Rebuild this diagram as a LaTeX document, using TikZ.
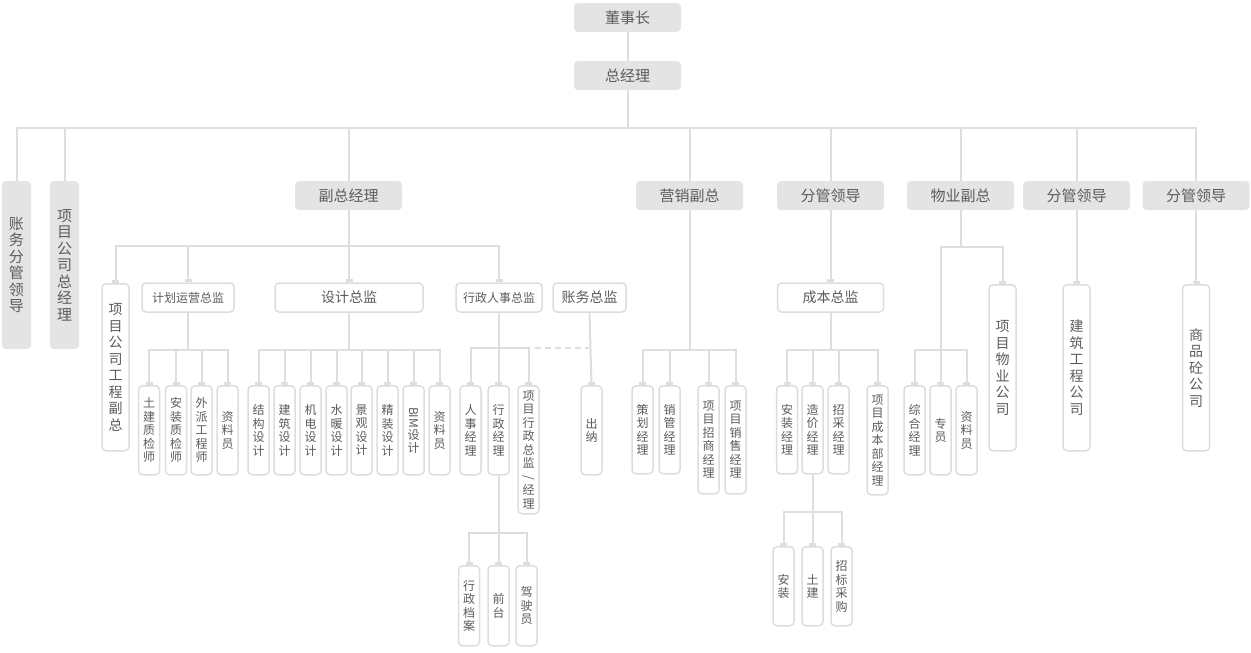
\documentclass[tikz,border=0pt]{standalone}
\usepackage{fontspec}
\newfontfamily\cjk{Noto Sans CJK SC}
\usetikzlibrary{arrows.meta}
\definecolor{boxgray}{HTML}{E4E4E4}
\definecolor{txtgray}{HTML}{5C5C5C}
\definecolor{linegray}{HTML}{DEDEDE}
\definecolor{bordgray}{HTML}{DDDDDD}
\newcommand{\rotlat}[1]{\rotatebox[origin=c]{-90}{#1}}
\tikzset{
  gbox/.style={fill=boxgray, rounded corners=4pt, text=txtgray, inner sep=0pt,
    font=\cjk\fontsize{15}{16.5}\selectfont, minimum width=107pt, minimum height=29pt},
  gvbox/.style={gbox, align=center, minimum width=29pt, minimum height=168pt},
  wbox/.style={draw=bordgray, line width=1.5pt, fill=white, rounded corners=4pt,
    text=txtgray, inner sep=0pt, minimum height=29pt, font=\cjk\fontsize{14}{16}\selectfont},
  wsmall/.style={wbox, font=\cjk\fontsize{12}{13.5}\selectfont},
  vsmall/.style={wbox, align=center, minimum width=21pt, anchor=north,
    font=\cjk\fontsize{12}{13.5}\selectfont},
  vtall/.style={wbox, align=center, minimum width=27pt, minimum height=167pt, anchor=north,
    font=\cjk\fontsize{14}{16.5}\selectfont},
  conn/.style={draw=linegray, line width=2pt},
  tipd/.style={conn, -{Rectangle[length=3pt,width=7pt]}},
  dashconn/.style={draw=linegray, line width=2pt, dash pattern=on 6pt off 4pt},
}
\begin{document}
\begin{tikzpicture}[x=1pt, y=-1pt]
\useasboundingbox (0,0) rectangle (1251,653);
% bars
\coordinate (r1) at (0,128);
\coordinate (r2) at (0,246);
\coordinate (r3) at (0,350);
\coordinate (r3b) at (0,348);
\coordinate (r4) at (0,533);
\coordinate (r5) at (0,512);
\coordinate (r6) at (0,247);
\coordinate (wyj) at (940.5,350);
\coordinate (dA) at (535,348);
\coordinate (dB) at (589,348);

% top
\node[gbox] (dsz) at (627.5,17.5) {董事长};
\node[gbox] (zjl) at (627.5,75.5) {总经理};

% level 2
\node[gvbox] (zwfg) at (16.5,265) {账\\务\\分\\管\\领\\导};
\node[gvbox] (xmzjl) at (64.5,265) {项\\目\\公\\司\\总\\经\\理};
\node[gbox] (fzjl) at (348.5,195.5) {副总经理};
\node[gbox] (yxfz) at (689.5,195.5) {营销副总};
\node[gbox] (fgld1) at (830.5,195.5) {分管领导};
\node[gbox] (wyfz) at (960.5,195.5) {物业副总};
\node[gbox] (fgld2) at (1076.5,195.5) {分管领导};
\node[gbox] (fgld3) at (1196,195.5) {分管领导};

% level 3 under 副总经理
\node[vtall] (gcfz) at (115.5,283) {项\\目\\公\\司\\工\\程\\副\\总};
\node[wsmall, minimum width=92pt] (jhyy) at (188,297.5) {计划运营总监};
\node[wbox, minimum width=148pt] (sjzj) at (349,297.5) {设计总监};
\node[wsmall, minimum width=86pt] (xzrs) at (499,297.5) {行政人事总监};
\node[wbox, minimum width=73pt] (cwzj) at (589.5,297.5) {账务总监};

% 计划运营总监 children
\node[vsmall, minimum height=89pt] (tjzj) at (149,385) {土\\建\\质\\检\\师};
\node[vsmall, minimum height=89pt] (azzj) at (176,385) {安\\装\\质\\检\\师};
\node[vsmall, minimum height=89pt] (wpgc) at (201.5,385) {外\\派\\工\\程\\师};
\node[vsmall, minimum height=89pt] (zly1) at (227.5,385) {资\\料\\员};

% 设计总监 children
\node[vsmall, minimum height=89pt] (jgsj) at (258.5,385) {结\\构\\设\\计};
\node[vsmall, minimum height=89pt] (jzsj) at (284.5,385) {建\\筑\\设\\计};
\node[vsmall, minimum height=89pt] (jdsj) at (310.5,385) {机\\电\\设\\计};
\node[vsmall, minimum height=89pt] (snsj) at (336.5,385) {水\\暖\\设\\计};
\node[vsmall, minimum height=89pt] (jgsj2) at (361.5,385) {景\\观\\设\\计};
\node[vsmall, minimum height=89pt] (jzsj2) at (387.5,385) {精\\装\\设\\计};
\node[vsmall, minimum height=89pt] (bimsj) at (413.5,385) {\rotlat{BIM}\\设\\计};
\node[vsmall, minimum height=89pt] (zly2) at (439.5,385) {资\\料\\员};

% 行政人事总监 children
\node[vsmall, minimum height=89pt] (rsjl) at (470.5,385) {人\\事\\经\\理};
\node[vsmall, minimum height=89pt] (xzjl) at (498.5,385) {行\\政\\经\\理};
\node[vsmall, minimum height=128pt] (xmxz) at (528.5,385) {项\\目\\行\\政\\总\\监\\\rotlat{/}\\经\\理};

% 行政经理 children
\node[vsmall, minimum height=80pt] (xzda) at (469,565) {行\\政\\档\\案};
\node[vsmall, minimum height=80pt] (qt) at (498.5,565) {前\\台};
\node[vsmall, minimum height=80pt] (jsy) at (526.5,565) {驾\\驶\\员};

% 账务总监 child
\node[vsmall, minimum height=89pt] (cn) at (591.5,385) {出\\纳};

% 营销副总 children
\node[vsmall, minimum height=88pt] (chjl) at (642.5,385) {策\\划\\经\\理};
\node[vsmall, minimum height=88pt] (xgjl) at (669.5,385) {销\\管\\经\\理};
\node[vsmall, minimum height=108pt] (zsjl) at (708.5,385) {项\\目\\招\\商\\经\\理};
\node[vsmall, minimum height=108pt] (xsjl) at (735.5,385) {项\\目\\销\\售\\经\\理};

% 成本
\node[wbox, minimum width=106pt] (cbzj) at (830.5,297.5) {成本总监};
\node[vsmall, minimum height=88pt] (azjl) at (787,385) {安\\装\\经\\理};
\node[vsmall, minimum height=88pt] (zjjl) at (812.5,385) {造\\价\\经\\理};
\node[vsmall, minimum height=88pt] (zcjl) at (838.5,385) {招\\采\\经\\理};
\node[vsmall, minimum height=109pt] (cbbjl) at (877.5,385) {项\\目\\成\\本\\部\\经\\理};
\node[vsmall, minimum height=79pt] (az) at (783.5,546) {安\\装};
\node[vsmall, minimum height=79pt] (tj) at (812.5,546) {土\\建};
\node[vsmall, minimum height=79pt] (zbcg) at (841.5,546) {招\\标\\采\\购};

% 物业
\node[vtall, minimum height=166pt] (xmwy) at (1002.5,284) {项\\目\\物\\业\\公\\司};
\node[vsmall, minimum height=89pt] (zhjl) at (914.5,385) {综\\合\\经\\理};
\node[vsmall, minimum height=89pt] (zy) at (940.5,385) {专\\员};
\node[vsmall, minimum height=89pt] (zly3) at (966.5,385) {资\\料\\员};

% 分管领导 children
\node[vtall, minimum height=166pt] (jzgc) at (1076.5,284) {建\\筑\\工\\程\\公\\司};
\node[vtall, minimum height=166pt] (sptg) at (1196,284) {商\\品\\砼\\公\\司};

% ---------- connectors ----------
\draw[conn] (dsz) -- (zjl);
\foreach \c in {zwfg,xmzjl,fzjl,yxfz,fgld1,wyfz,fgld2,fgld3}
  \draw[conn] (zjl.south) -- (zjl.south |- r1) -| (\c.north);

\foreach \c in {gcfz,jhyy,sjzj,xzrs}
  \draw[tipd] (fzjl.south) -- (fzjl.south |- r2) -| (\c.north);

\foreach \c in {tjzj,azzj,wpgc,zly1}
  \draw[tipd] (jhyy.south) -- (jhyy.south |- r3) -| (\c.north);

\foreach \c in {jgsj,jzsj,jdsj,snsj,jgsj2,jzsj2,bimsj,zly2}
  \draw[tipd] (sjzj.south) -- (sjzj.south |- r3) -| (\c.north);

\foreach \c in {rsjl,xzjl,xmxz}
  \draw[tipd] (xzrs.south) -- (xzrs.south |- r3b) -| (\c.north);

\foreach \c in {xzda,qt,jsy}
  \draw[tipd] (xzjl.south) -- (xzjl.south |- r4) -| (\c.north);

\draw[tipd] (cwzj.south) -- (cn.north);
\draw[dashconn] (dA) -- (dB);

\foreach \c in {chjl,xgjl,zsjl,xsjl}
  \draw[tipd] (yxfz.south) -- (yxfz.south |- r3) -| (\c.north);

\draw[tipd] (fgld1.south) -- (cbzj.north);
\foreach \c in {azjl,zjjl,zcjl,cbbjl}
  \draw[tipd] (cbzj.south) -- (cbzj.south |- r3) -| (\c.north);
\foreach \c in {az,tj,zbcg}
  \draw[tipd] (zjjl.south) -- (zjjl.south |- r5) -| (\c.north);

\draw[tipd] (wyfz.south) -- (wyfz.south |- r6) -| (xmwy.north);
\draw[conn] (wyfz.south) -- (wyfz.south |- r6) -| (wyj);
\foreach \c in {zhjl,zy,zly3}
  \draw[tipd] (wyj) -| (\c.north);

\draw[tipd] (fgld2.south) -- (jzgc.north);
\draw[tipd] (fgld3.south) -- (sptg.north);
\end{tikzpicture}
\end{document}
